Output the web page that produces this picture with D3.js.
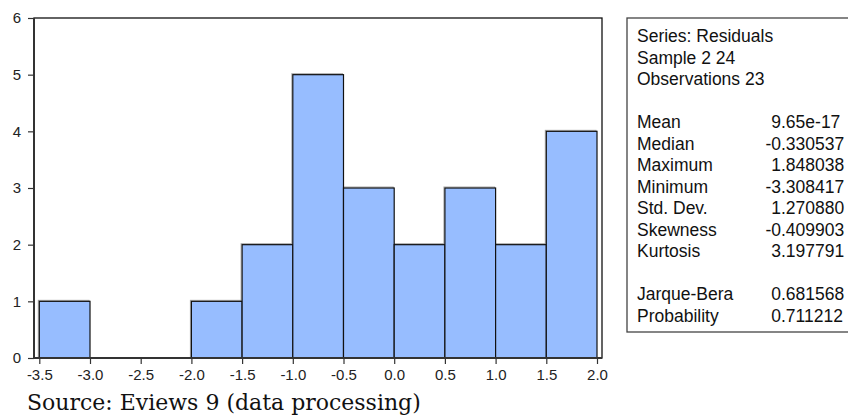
<!DOCTYPE html>
<html><head><meta charset="utf-8">
<script src="https://cdn.jsdelivr.net/npm/d3@7"></script>
<style>body{margin:0;background:#fff;} svg{display:block;}</style>
</head><body>
<svg id="chart" width="848" height="417"></svg>
<script>
// Data
const binStarts = [-3.5, -3.0, -2.5, -2.0, -1.5, -1.0, -0.5, 0.0, 0.5, 1.0, 1.5];
const binWidth = 0.5;
const counts = [1, 0, 0, 1, 2, 5, 3, 2, 3, 2, 4];
const xTicks = [-3.5, -3.0, -2.5, -2.0, -1.5, -1.0, -0.5, 0.0, 0.5, 1.0, 1.5, 2.0];
const yTicks = [0, 1, 2, 3, 4, 5, 6];
const headerLines = ["Series: Residuals", "Sample 2 24", "Observations 23"];
const statNames = ["Mean", "Median", "Maximum", "Minimum", "Std. Dev.", "Skewness", "Kurtosis"];
const statValues = ["9.65e-17", "-0.330537", "1.848038", "-3.308417", "1.270880", "-0.409903", "3.197791"];
const testNames = ["Jarque-Bera", "Probability"];
const testValues = ["0.681568", "0.711212"];
const sourceText = "Source: Eviews 9 (data processing)";

const svg = d3.select("#chart");
const frame = {left: 34, right: 602, top: 18, bottom: 358};
const x = d3.scaleLinear().domain([-3.5, 2.0]).range([39.3, 597]);
const y = d3.scaleLinear().domain([0, 6]).range([frame.bottom, frame.top]);

// bars
const bars = svg.append("g");
const data = binStarts.map((s, i) => ({s, c: counts[i]})).filter(d => d.c > 0);
bars.selectAll("rect.shadow").data(data).join("rect")
  .attr("x", d => x(d.s) - 1).attr("y", d => y(d.c) - 1)
  .attr("width", d => x(d.s + binWidth) - x(d.s)).attr("height", d => y(0) - y(d.c))
  .attr("fill", "none").attr("stroke", "#a8a8a8").attr("stroke-width", 1);
bars.selectAll("rect.bar").data(data).join("rect")
  .attr("x", d => x(d.s)).attr("y", d => y(d.c))
  .attr("width", d => x(d.s + binWidth) - x(d.s)).attr("height", d => y(0) - y(d.c))
  .attr("fill", "#97BDFF").attr("stroke", "#111").attr("stroke-width", 1.2);

// frame
svg.append("rect").attr("x", frame.left).attr("y", frame.top)
  .attr("width", frame.right - frame.left).attr("height", frame.bottom - frame.top)
  .attr("fill", "none").attr("stroke", "#111").attr("stroke-width", 1.3);
svg.append("line").attr("x1", frame.left).attr("x2", frame.left).attr("y1", frame.top).attr("y2", frame.bottom)
  .attr("stroke", "#333").attr("stroke-width", 2);
svg.append("line").attr("x1", frame.left).attr("x2", frame.right).attr("y1", frame.bottom).attr("y2", frame.bottom)
  .attr("stroke", "#333").attr("stroke-width", 2);

// axes
const yAxis = d3.axisLeft(y).tickValues(yTicks).tickFormat(d3.format("d")).tickSize(6).tickPadding(7);
const gy = svg.append("g").attr("transform", `translate(${frame.left},0)`).call(yAxis);
const xAxis = d3.axisBottom(x).tickValues(xTicks).tickFormat(d3.format(".1f")).tickSize(6).tickPadding(5);
const gx = svg.append("g").attr("transform", `translate(0,${frame.bottom})`).call(xAxis);
[gx, gy].forEach(g => {
  g.attr("font-size", null).attr("font-family", null);
  g.select(".domain").remove();
  g.selectAll(".tick line").attr("stroke", "#333").attr("stroke-width", 1.2);
  g.selectAll(".tick text").attr("fill", "#222").style("font-family", "Liberation Sans, Arial, sans-serif").style("font-size", "15px");
});
gx.selectAll(".tick text").text(d => d3.format(".1f")(d).replace("−", "-"));

// stats box
const box = {left: 627, top: 18, right: 862, bottom: 332};
svg.append("rect").attr("x", box.left).attr("y", box.top).attr("width", box.right - box.left).attr("height", box.bottom - box.top)
  .attr("fill", "#fff").attr("stroke", "#444").attr("stroke-width", 1.3);
const lineH = 21.5, base0 = 42, tx = 637, decX = 781;
const st = svg.append("g").style("font-family", "Liberation Sans, Arial, sans-serif").style("font-size", "17.5px").attr("fill", "#111");
function valueText(v, yy) {
  const t = st.append("text").attr("y", yy).text(v);
  const prefix = v.split(".")[0];
  const tmp = st.append("text").text(prefix);
  const w = tmp.node().getComputedTextLength();
  tmp.remove();
  t.attr("x", decX - w);
}
headerLines.forEach((t, i) => st.append("text").attr("x", tx).attr("y", base0 + i * lineH).text(t));
statNames.forEach((t, i) => {
  st.append("text").attr("x", tx).attr("y", base0 + (i + 4) * lineH).text(t);
  valueText(statValues[i], base0 + (i + 4) * lineH);
});
testNames.forEach((t, i) => {
  st.append("text").attr("x", tx).attr("y", base0 + (i + 12) * lineH).text(t);
  valueText(testValues[i], base0 + (i + 12) * lineH);
});

// source
svg.append("text").attr("x", 27).attr("y", 410).style("font-family", "DejaVu Serif, serif").style("font-size", "22px")
  .attr("fill", "#111").text(sourceText);
</script>
</body></html>
